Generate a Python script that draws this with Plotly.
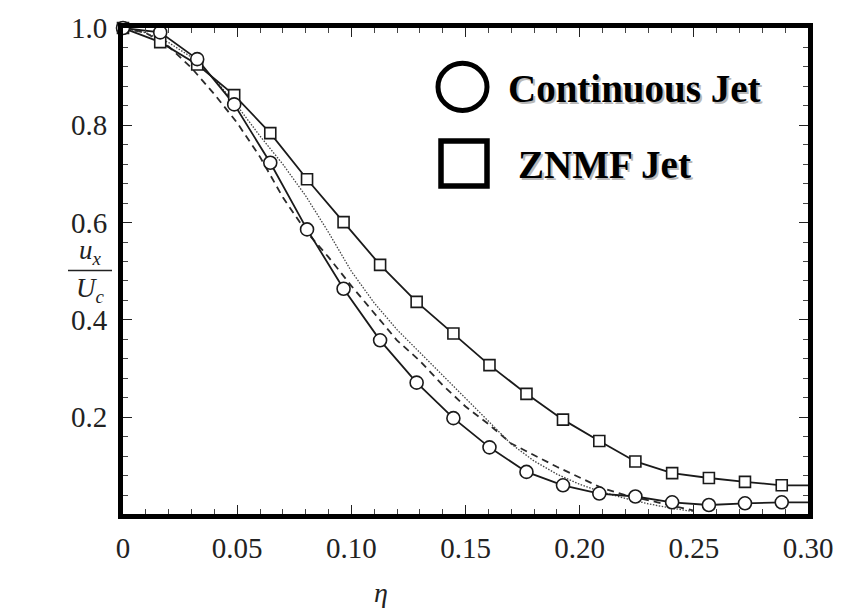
import plotly.graph_objects as go

# ---- data ----
eta_pts = [0.0, 0.0163, 0.0325, 0.0487, 0.0645, 0.0806, 0.0966, 0.1126, 0.1286, 0.1447,
           0.1605, 0.1767, 0.1927, 0.2086, 0.2244, 0.2405, 0.2566, 0.2724, 0.2885]
continuous = [1.0, 0.991, 0.936, 0.843, 0.723, 0.586, 0.464, 0.358, 0.271, 0.198,
              0.138, 0.0875, 0.060, 0.043, 0.037, 0.025, 0.0195, 0.023, 0.025]
znmf = [1.0, 0.971, 0.925, 0.862, 0.784, 0.689, 0.601, 0.513, 0.437, 0.372,
        0.307, 0.248, 0.195, 0.151, 0.109, 0.085, 0.075, 0.067, 0.060]
# line continuation to the right frame
eta_edge = 0.30
continuous_edge = 0.025
znmf_edge = 0.060

eta_curve = [0.0, 0.01, 0.02, 0.03, 0.04, 0.05, 0.06, 0.07, 0.08, 0.09, 0.10, 0.11, 0.12,
             0.13, 0.14, 0.15, 0.16, 0.17, 0.18, 0.19, 0.20, 0.21, 0.22, 0.23, 0.24, 0.25]
dashed_curve = [1.0, 0.99, 0.962, 0.918, 0.864, 0.805, 0.735, 0.652, 0.583, 0.529, 0.470,
                0.413, 0.358, 0.316, 0.266, 0.222, 0.186, 0.146, 0.122, 0.098, 0.076,
                0.054, 0.040, 0.029, 0.018, 0.008]
dotted_curve = [1.0, 0.99, 0.97, 0.94, 0.895, 0.84, 0.778, 0.72, 0.655, 0.58, 0.50,
                0.435, 0.38, 0.333, 0.285, 0.237, 0.19, 0.145, 0.11, 0.083, 0.062,
                0.046, 0.033, 0.022, 0.013, 0.006]

x_alias = {"0.00": "0"}
legend_labels = ["Continuous Jet", "ZNMF Jet"]

# ---- layout geometry ----
W, H = 847, 609
L, R, T, B = 123, 39, 19, 95
PW, PH = W - L - R, H - T - B


def px(xp):
    return (xp - L) / PW


def py(yp):
    return (H - B - yp) / PH


SERIF = "Liberation Serif, Times New Roman, serif"

fig = go.Figure()

fig.add_trace(go.Scatter(x=eta_curve, y=dashed_curve, mode="lines",
                         line=dict(color="#2a2a2a", width=1.8, dash="7px,5px"),
                         showlegend=False, hoverinfo="skip"))
fig.add_trace(go.Scatter(x=eta_curve, y=dotted_curve, mode="lines",
                         line=dict(color="#444444", width=1.3, dash="1.5px,1.5px"),
                         showlegend=False, hoverinfo="skip"))

fig.add_trace(go.Scatter(x=eta_pts + [eta_edge], y=continuous + [continuous_edge], mode="lines",
                         line=dict(color="#1a1a1a", width=1.8), showlegend=False))
fig.add_trace(go.Scatter(x=eta_pts + [eta_edge], y=znmf + [znmf_edge], mode="lines",
                         line=dict(color="#1a1a1a", width=1.8), showlegend=False))

fig.add_trace(go.Scatter(x=eta_pts, y=znmf, mode="markers", cliponaxis=False,
                         marker=dict(symbol="square", size=11, color="white",
                                     line=dict(color="#1a1a1a", width=1.6)),
                         showlegend=False))
fig.add_trace(go.Scatter(x=eta_pts, y=continuous, mode="markers", cliponaxis=False,
                         marker=dict(symbol="circle", size=13, color="white",
                                     line=dict(color="#1a1a1a", width=1.6)),
                         showlegend=False))

shapes = [
    # legend symbols
    dict(type="circle", xref="paper", yref="paper", x0=px(438), x1=px(487), y0=py(103), y1=py(55),
         line=dict(color="black", width=5)),
    dict(type="rect", xref="paper", yref="paper", x0=px(441), x1=px(487), y0=py(180), y1=py(134),
         line=dict(color="black", width=5.5)),
    # fraction bar of y title
    dict(type="line", xref="paper", yref="paper", x0=px(68), x1=px(112), y0=py(266), y1=py(266),
         line=dict(color="#222222", width=1.3)),
]

annotations = []
for label, xp, yp in [(legend_labels[0], 506, 81), (legend_labels[1], 516, 158)]:
    annotations.append(dict(text="<b>" + label + "</b>", xref="paper", yref="paper",
                            x=px(xp + 2), y=py(yp + 2), xanchor="left", yanchor="middle",
                            showarrow=False, font=dict(family=SERIF, size=39, color="#b8b8b8")))
    annotations.append(dict(text="<b>" + label + "</b>", xref="paper", yref="paper",
                            x=px(xp), y=py(yp), xanchor="left", yanchor="middle",
                            showarrow=False, font=dict(family=SERIF, size=39, color="black")))

annotations += [
    dict(text="<i>u<sub>x</sub></i>", xref="paper", yref="paper", x=px(90), y=py(267),
         xanchor="center", yanchor="bottom", showarrow=False,
         font=dict(family=SERIF, size=27, color="#222222")),
    dict(text="<i>U<sub>c</sub></i>", xref="paper", yref="paper", x=px(90), y=py(266),
         xanchor="center", yanchor="top", showarrow=False,
         font=dict(family=SERIF, size=27, color="#222222")),
    dict(text="<i>η</i>", xref="paper", yref="paper", x=px(381), y=py(594),
         xanchor="center", yanchor="middle", showarrow=False,
         font=dict(family=SERIF, size=28, color="#222222")),
]

fig.update_layout(
    width=W, height=H,
    margin=dict(l=L, r=R, t=T, b=B, pad=0),
    paper_bgcolor="white", plot_bgcolor="white",
    shapes=shapes, annotations=annotations,
    showlegend=False,
    xaxis=dict(range=[0, 0.30], tickmode="linear", tick0=0, dtick=0.05,
               tickformat=".2f", labelalias=x_alias,
               showgrid=False, zeroline=False,
               showline=True, linewidth=5, linecolor="black", mirror="allticks",
               ticks="inside", ticklen=9, tickwidth=1.3, tickcolor="#222222",
               minor=dict(dtick=0.01, tick0=0, ticks="inside", ticklen=5, tickwidth=1,
                          tickcolor="#444444", showgrid=False),
               tickfont=dict(family=SERIF, size=29, color="#222222"),
               ticklabelstandoff=4),
    yaxis=dict(range=[0.001, 1.0], tickmode="linear", tick0=0, dtick=0.2,
               tickformat=".1f",
               showgrid=False, zeroline=False,
               showline=True, linewidth=5, linecolor="black", mirror="allticks",
               ticks="inside", ticklen=9, tickwidth=1.3, tickcolor="#222222",
               minor=dict(dtick=0.04, tick0=0, ticks="inside", ticklen=5, tickwidth=1,
                          tickcolor="#444444", showgrid=False),
               tickfont=dict(family=SERIF, size=29, color="#222222"),
               ticklabelstandoff=5),
)

fig.write_html("out.html")
